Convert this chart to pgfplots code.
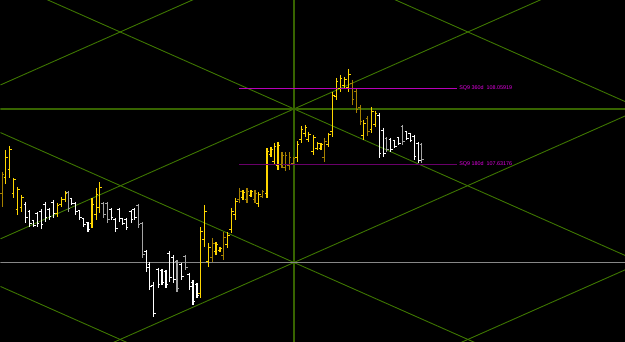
\documentclass[border=0pt]{standalone}
\usepackage{pgfplots}
\usepackage{pgfplotstable}
\usepackage{fontspec}
\setmainfont{Liberation Sans}
\pgfplotsset{compat=1.18}

\definecolor{barY}{RGB}{255,214,0}
\definecolor{barD}{RGB}{165,128,0}
\definecolor{barW}{RGB}{255,255,255}
\definecolor{barG}{RGB}{165,165,165}
\definecolor{gridG}{RGB}{55,100,0}
\definecolor{diagG}{RGB}{62,118,0}
\definecolor{hgray}{RGB}{135,135,135}
\definecolor{magU}{RGB}{185,0,185}
\definecolor{magL}{RGB}{105,0,105}
\definecolor{labM}{RGB}{225,0,225}

\pgfdeclareplotmark{otick}{\pgfpathmoveto{\pgfqpoint{-2.2pt}{0pt}}\pgfpathlineto{\pgfqpoint{0pt}{0pt}}\pgfusepathqstroke}
\pgfdeclareplotmark{ctick}{\pgfpathmoveto{\pgfqpoint{0pt}{0pt}}\pgfpathlineto{\pgfqpoint{2.2pt}{0pt}}\pgfusepathqstroke}

% x = bar position, H = high, L = low, O = open, C = close (screen units, y downward)
\pgfplotstableread{
x H L O C
5.3 150 184 178 158
9.3 146 178 170 150
13.3 178 198 194 180
17.3 187 215 210 190
21.3 195 212 208 198
56.7 203 217 214 206
60.7 197 207 205 200
64.7 191 202 200 194
91.5 198 228 224 205
95.7 188 220 215 195
99 182 213 208 188
200.3 227 298 294 232
204 205 247 240 212
208.3 243 267 262 248
215.7 242 255 252 245
219.7 247 252 251 249
227.3 232 248 245 236
231 208 233 230 212
235 198 220 215 202
242.7 190 200 198 193
250.7 190 197 196 192
258.3 192 207 204 195
266.7 148 198 194 152
270.7 147 157 155 150
274 143 165 162 147
277.7 142 170 166 146
297 141 162 158 145
301 126 143 140 130
305 125 137 134 128
308.3 132 142 140 135
313.3 135 155 152 138
317.3 142 150 149 144
320.7 143 150 149 145
328.3 133 147 145 135
332.3 92 137 132 96
336 78 100 97 82
340 75 92 89 79
344.3 77 88 86 80
348.3 69 92 88 75
363.3 120 140 136 124
371.5 107 133 130 112
375 111 127 125 114
}\tabY

\pgfplotstableread{
x H L O C
1.7 172 207 194 175
212 238 262 258 244
223.3 232 260 256 238
239 188 203 200 192
246.7 188 203 200 192
254.7 190 203 200 194
262 190 198 197 192
281.7 152 168 165 156
285 152 171 168 156
289 152 170 166 158
293 157 165 164 159
324.3 138 162 158 142
352 80 105 84 100
356 88 113 92 110
360 105 125 108 122
367.7 116 136 119 132
}\tabD

\pgfplotstableread{
x H L O C
25.3 202 223 205 218
29.3 210 227 212 224
33.3 220 227 221 226
36.7 212 227 214 224
40.7 209 229 212 225
44.7 202 222 205 218
48.7 208 220 210 217
52.7 200 218 203 214
71.3 198 205 199 204
75.3 202 215 204 212
79.3 210 220 211 218
83.3 218 227 219 225
87.5 222 232 223 230
110.7 208 220 210 218
115 218 232 220 229
118.7 208 222 210 219
122 218 225 219 224
125.7 218 230 220 228
130.7 210 223 212 220
134 208 220 210 218
146 250 272 252 268
149.5 262 290 265 287
153 282 317 286 314
157.7 268 288 270 285
161.7 269 285 271 283
165.7 270 288 272 285
169.3 251 282 254 278
173.3 255 283 258 280
181 263 280 265 277
189 273 290 275 287
192.7 280 305 283 302
196.7 283 298 285 296
379 113 158 116 154
383.3 128 157 131 154
390.7 138 152 140 150
394.7 140 148 141 147
398.7 137 145 138 144
406.7 131 140 132 139
410 133 142 134 141
414 135 160 137 157
418.3 142 163 144 161
}\tabW

\pgfplotstableread{
x H L O C
67.7 191 212 193 209
103 202 218 204 215
107 202 223 204 220
137.7 204 228 206 225
142 222 258 224 255
176.7 260 292 262 289
185 255 270 257 268
386.7 137 152 139 150
402.7 125 145 127 142
421.7 143 163 145 160
}\tabG

\newcommand{\ohlc}[2]{%
  \addplot[#2, line width=1.15pt, forget plot, mark=none,
    quiver={u=0, v=\thisrow{L}-\thisrow{H}}]
    table[x=x, y=H] {#1};
  \addplot[only marks, mark=otick, forget plot, mark options={draw=#2, line width=1.1pt}] table[x=x, y=O] {#1};
  \addplot[only marks, mark=ctick, forget plot, mark options={draw=#2, line width=1.1pt}] table[x=x, y=C] {#1};
}

\begin{document}
\begin{tikzpicture}
\begin{axis}[
  x=1pt, y=1pt, scale only axis,
  xmin=0, xmax=625, ymin=0, ymax=342, y dir=reverse,
  axis background/.style={fill=black},
  axis line style={draw=none},
  xtick=\empty, ytick=\empty,
  clip=true,
]
% grid construction lines
\addplot[diagG, line width=0.9pt] coordinates {(0,-175) (625,101.6)};
\addplot[diagG, line width=0.9pt] coordinates {(0,-21) (625,255.6)};
\addplot[diagG, line width=0.9pt] coordinates {(0,132.7) (625,409.3)};
\addplot[diagG, line width=0.9pt] coordinates {(0,286.7) (625,563.3)};
\addplot[diagG, line width=0.9pt] coordinates {(0,85) (625,-191.6)};
\addplot[diagG, line width=0.9pt] coordinates {(0,239) (625,-37.6)};
\addplot[diagG, line width=0.9pt] coordinates {(0,392.7) (625,116.1)};
\addplot[diagG, line width=0.9pt] coordinates {(0,546.7) (625,270.1)};
\addplot[gridG, line width=1.8pt] coordinates {(293.7,0) (293.7,342)};
\addplot[gridG, line width=1.8pt] coordinates {(0,109) (625,109)};
\addplot[hgray, line width=1.7pt] coordinates {(0,262.7) (625,262.7)};

% price bars
\ohlc{\tabD}{barD}
\ohlc{\tabG}{barG}
\ohlc{\tabY}{barY}
\ohlc{\tabW}{barW}

% SQ9 levels
\addplot[magU, line width=1pt] coordinates {(239,88.3) (457,88.3)};
\addplot[magL, line width=1.1pt] coordinates {(239,164.3) (457,164.3)};
\node[anchor=west, inner sep=0pt, text=labM, font=\fontsize{5.4}{6}\selectfont] at (axis cs:459,88.3) {SQ9 360d\ \ 108.05919};
\node[anchor=west, inner sep=0pt, text=labM, font=\fontsize{5.4}{6}\selectfont] at (axis cs:459,164.3) {SQ9 180d\ \ 107.63176};
\end{axis}
\end{tikzpicture}
\end{document}
